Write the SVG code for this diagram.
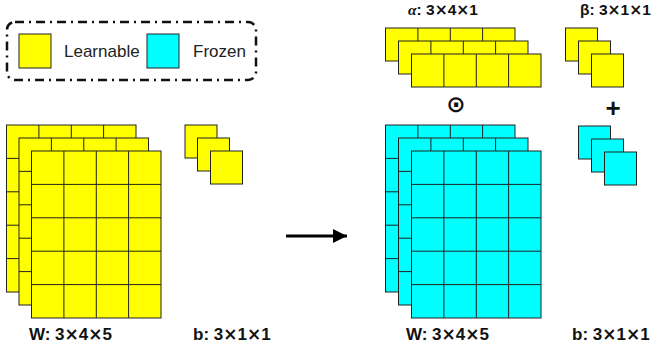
<svg xmlns="http://www.w3.org/2000/svg" width="652" height="350" viewBox="0 0 652 350">
<defs>
<style>
.y{fill:#FFFF00;stroke:#222;stroke-width:1}
.c{fill:#00FFFF;stroke:#222;stroke-width:1}
.g{stroke:#222;stroke-width:1;fill:none}
.lbl{font-family:"Liberation Sans",Arial,sans-serif;font-weight:bold;font-size:17px;fill:#111}
.top{font-family:"Liberation Sans",Arial,sans-serif;font-weight:bold;font-size:15.5px;fill:#111}
.leg{font-family:"Liberation Sans",Arial,sans-serif;font-size:17px;fill:#222}
.x{font-family:"DejaVu Sans",sans-serif}
</style>
<marker id="ah" markerWidth="14" markerHeight="14" refX="14" refY="7" orient="auto" markerUnits="userSpaceOnUse">
<path d="M0,0 L14,7 L0,14 Z" fill="#000"/>
</marker>
<g id="wlayer">
<rect x="0" y="0" width="129.5" height="167"/>
<path class="g" d="M32.4,0V167M64.8,0V167M97.1,0V167M0,33.4H129.5M0,66.8H129.5M0,100.2H129.5M0,133.6H129.5"/>
</g>
<g id="alayer">
<rect x="0" y="0" width="129.5" height="33"/>
<path class="g" d="M32.4,0V33M64.8,0V33M97.1,0V33"/>
</g>
</defs>
<rect width="652" height="350" fill="#fff"/>

<g id="legend">
<rect x="7" y="22" width="249" height="58" rx="8" fill="none" stroke="#111" stroke-width="2.5" stroke-dasharray="9,5,2,5"/>
<rect class="y" x="19" y="34" width="32" height="34" stroke="#555"/>
<text class="leg" x="64" y="57">Learnable</text>
<rect class="c" x="147" y="34" width="32" height="34" stroke="#555"/>
<text class="leg" x="193" y="57">Frozen</text>
</g>

<g id="W-learnable">
<use href="#wlayer" x="6.5" y="125" class="y"/>
<use href="#wlayer" x="19" y="138" class="y"/>
<use href="#wlayer" x="31.5" y="151" class="y"/>
<text class="lbl" x="29" y="340">W: 3<tspan class="x">×</tspan>4<tspan class="x">×</tspan>5</text>
</g>

<g id="b-learnable">
<rect class="y" x="185" y="125" width="32" height="33"/>
<rect class="y" x="197.5" y="138" width="32" height="33"/>
<rect class="y" x="210.5" y="151" width="32" height="33"/>
<text class="lbl" x="193" y="340">b: 3<tspan class="x">×</tspan>1<tspan class="x">×</tspan>1</text>
</g>

<g id="connectors">
<line x1="286" y1="236" x2="347" y2="236" stroke="#000" stroke-width="3" marker-end="url(#ah)"/>
</g>

<g id="alpha">
<use href="#alayer" x="385.5" y="28" class="y"/>
<use href="#alayer" x="398.5" y="41" class="y"/>
<use href="#alayer" x="411.5" y="54" class="y"/>
<text class="top" x="408" y="15"><tspan font-family="'Liberation Serif',serif" font-style="italic">α</tspan>: 3<tspan class="x">×</tspan>4<tspan class="x">×</tspan>1</text>
</g>

<g id="beta">
<rect class="y" x="565.5" y="28" width="32" height="33"/>
<rect class="y" x="578.5" y="41" width="32" height="33"/>
<rect class="y" x="591.5" y="54" width="32" height="33"/>
<text class="top" x="580" y="15">β: 3<tspan class="x">×</tspan>1<tspan class="x">×</tspan>1</text>
</g>

<g id="odot">
<text x="456" y="112" text-anchor="middle" font-family="'DejaVu Sans',sans-serif" font-weight="bold" font-size="23" fill="#111">⊙</text>
</g>
<g id="plus">
<text x="613" y="117" text-anchor="middle" font-family="'Liberation Sans',Arial,sans-serif" font-weight="bold" font-size="26" fill="#111">+</text>
</g>

<g id="W-frozen">
<use href="#wlayer" x="385.5" y="125" class="c"/>
<use href="#wlayer" x="398.5" y="138" class="c"/>
<use href="#wlayer" x="411.5" y="151" class="c"/>
<text class="lbl" x="406" y="340">W: 3<tspan class="x">×</tspan>4<tspan class="x">×</tspan>5</text>
</g>

<g id="b-frozen">
<rect class="c" x="578.5" y="126" width="32" height="33"/>
<rect class="c" x="591.5" y="139" width="32" height="33"/>
<rect class="c" x="604.5" y="152" width="32" height="33"/>
<text class="lbl" x="572" y="340">b: 3<tspan class="x">×</tspan>1<tspan class="x">×</tspan>1</text>
</g>
</svg>
